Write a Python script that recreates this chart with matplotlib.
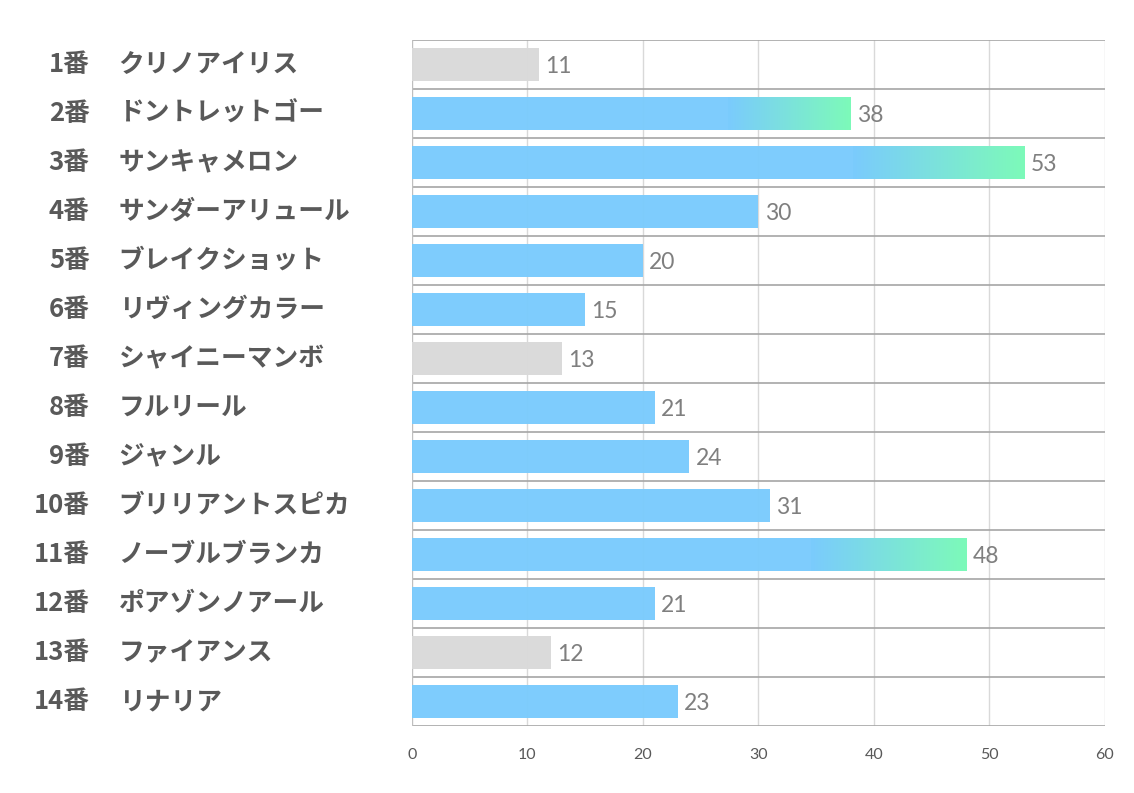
import numpy as np
import matplotlib.pyplot as plt
from matplotlib.colors import LinearSegmentedColormap

plt.rcParams['font.family'] = ['Noto Sans CJK JP', 'DejaVu Sans']

# data
numbers = ["1番", "2番", "3番", "4番", "5番", "6番", "7番",
           "8番", "9番", "10番", "11番", "12番", "13番", "14番"]
names = ["クリノアイリス", "ドントレットゴー", "サンキャメロン", "サンダーアリュール",
         "ブレイクショット", "リヴィングカラー", "シャイニーマンボ", "フルリール",
         "ジャンル", "ブリリアントスピカ", "ノーブルブランカ", "ポアゾンノアール",
         "ファイアンス", "リナリア"]
values = [11, 38, 53, 30, 20, 15, 13, 21, 24, 31, 48, 21, 12, 23]
styles = ["gray", "grad", "grad", "blue", "blue", "blue", "gray",
          "blue", "blue", "blue", "grad", "blue", "gray", "blue"]
xticks = [0, 10, 20, 30, 40, 50, 60]

blue = "#7ACBFD"
green = "#7DFAB9"
gray = "#D9D9D9"
colors = {"gray": gray, "blue": blue, "grad": blue}

fig = plt.figure(figsize=(11.34, 7.93), dpi=100)
ax = fig.add_axes([0.3633, 0.0845, 0.6111, 0.8651])

y = np.arange(len(values))
h = 0.67
ax.set_xlim(0, 60)
ax.set_ylim(len(values) - 0.5, -0.5)

# grid
for xv in xticks[1:]:
    ax.axvline(xv, color="#D9D9D9", lw=1, zorder=1)
for yb in np.arange(-0.5, len(values), 1):
    ax.axhline(yb, color="#A6A6A6", lw=1.2, zorder=1)
ax.axvline(0, color="#BFBFBF", lw=1, zorder=1)

ax.barh(y, values, height=h, color=[colors[s] for s in styles], alpha=0.97, zorder=2)

# gradient on the top bars
cmap = LinearSegmentedColormap.from_list("bg", [blue, green])
grad = np.linspace(0, 1, 256).reshape(1, -1)
for yi, v, s in zip(y, values, styles):
    if s == "grad":
        ax.imshow(grad, cmap=cmap, aspect="auto", interpolation="bilinear",
                  extent=[v * 0.72, v, yi + h / 2, yi - h / 2], zorder=3)
ax.set_xlim(0, 60)
ax.set_ylim(len(values) - 0.5, -0.5)

for yi, v in zip(y, values):
    ax.text(v + 0.55, yi + 0.04, str(v), va="center", ha="left", fontsize=16.5,
            color="#7F7F7F", family=["Lato", "DejaVu Sans"])

# row labels
for yi, num, nm in zip(y, numbers, names):
    ax.text(-27.9, yi, num, ha="right", va="center", fontsize=18.5, fontweight="bold",
            color="#595959")
    ax.text(-25.4, yi, nm, ha="left", va="center", fontsize=18.5, fontweight="bold",
            color="#595959")

ax.set_xticks(xticks)
ax.set_xticklabels([str(t) for t in xticks], fontsize=11.5, color="#595959",
                   family=["Lato", "DejaVu Sans"])
ax.tick_params(axis="x", length=0, pad=16)
ax.set_yticks([])
for sp in ax.spines.values():
    sp.set_visible(False)

fig.savefig("out.png", dpi=100)
